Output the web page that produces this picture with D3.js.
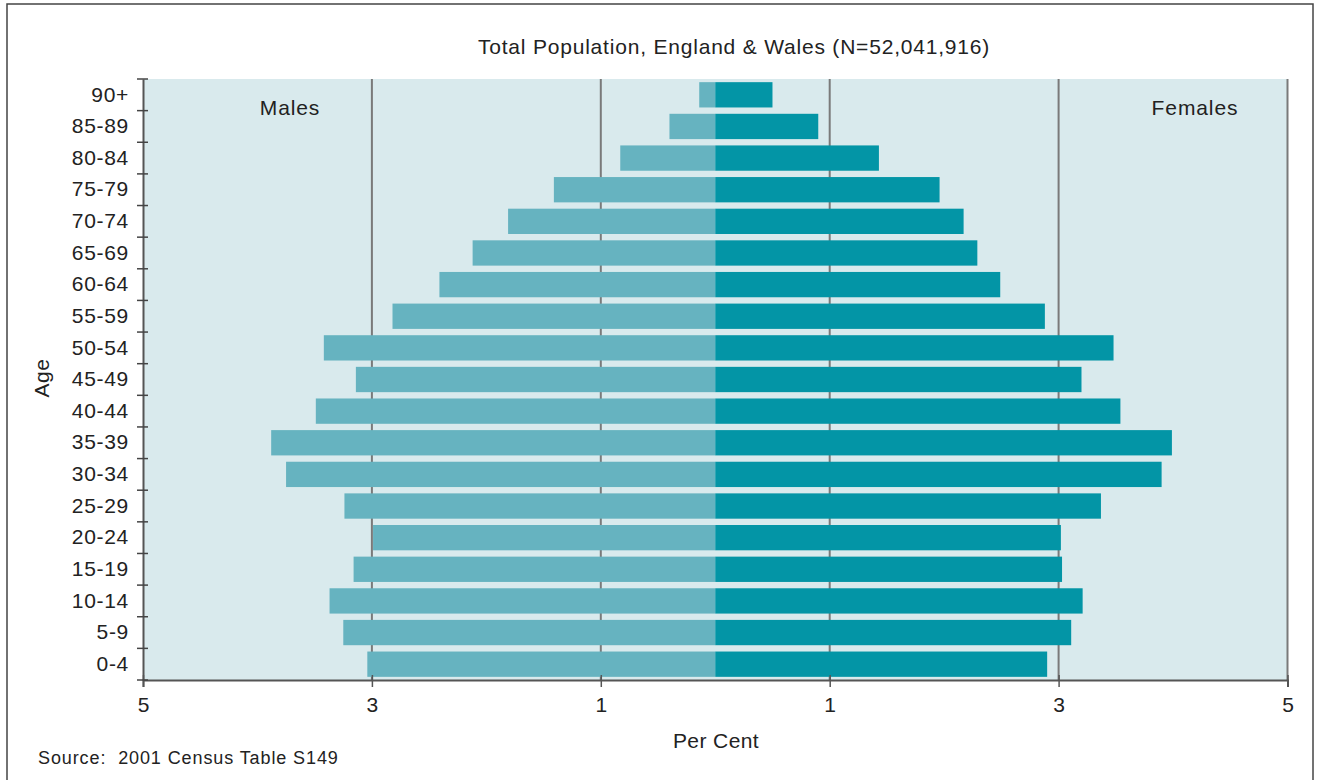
<!DOCTYPE html>
<html>
<head>
<meta charset="utf-8">
<title>Population pyramid</title>
<script src="https://d3js.org/d3.v7.min.js"></script>
<style>
body { margin: 0; background: #fff; }
text { font-family: "Liberation Sans", Arial, sans-serif; fill: #222; }
</style>
</head>
<body>
<div id="chart"></div>
<script>
// age groups, oldest first (top of the pyramid)
var ageGroups = ["90+", "85-89", "80-84", "75-79", "70-74", "65-69", "60-64", "55-59", "50-54",
  "45-49", "40-44", "35-39", "30-34", "25-29", "20-24", "15-19", "10-14", "5-9", "0-4"];

// per cent of total population
var males   = [0.14, 0.40, 0.83, 1.41, 1.81, 2.12, 2.41, 2.82, 3.42,
  3.14, 3.49, 3.88, 3.75, 3.24, 2.99, 3.16, 3.37, 3.25, 3.04];
var females = [0.50, 0.90, 1.43, 1.96, 2.17, 2.29, 2.49, 2.88, 3.48,
  3.20, 3.54, 3.99, 3.90, 3.37, 3.02, 3.03, 3.21, 3.11, 2.90];

var xTicks = [-5, -3, -1, 1, 3, 5];
var gridValues = [-3, -1, 1, 3, 5];

var W = 1319, H = 780;
var margin = {top: 79, right: 31, bottom: 100, left: 143};

var svg = d3.select("#chart").append("svg")
  .attr("width", W)
  .attr("height", H);

// outer frame
svg.append("rect")
  .attr("x", 7).attr("y", 4)
  .attr("width", 1306).attr("height", 800)
  .attr("fill", "none")
  .attr("stroke", "#444")
  .attr("stroke-width", 1.5);

var x = d3.scaleLinear()
  .domain([-5, 5])
  .range([margin.left, W - margin.right - 0.5]);

var y = d3.scaleBand()
  .domain(ageGroups)
  .range([margin.top, H - margin.bottom])
  .paddingInner(0.2)
  .paddingOuter(0.1);

var y0 = margin.top, y1 = H - margin.bottom;

// plot background
svg.append("rect")
  .attr("x", x(-5)).attr("y", y0)
  .attr("width", x(5) - x(-5)).attr("height", y1 - y0)
  .attr("fill", "#d9eaed");

// vertical grid lines
svg.append("g").selectAll("line")
  .data(gridValues)
  .enter().append("line")
    .attr("x1", function(d) { return x(d); })
    .attr("x2", function(d) { return x(d); })
    .attr("y1", y0).attr("y2", y1)
    .attr("stroke", "#7a7a7a")
    .attr("stroke-width", 2);

// bars
var rows = ageGroups.map(function(a, i) { return {age: a, m: males[i], f: females[i]}; });

svg.append("g").selectAll("rect")
  .data(rows)
  .enter().append("rect")
    .attr("x", function(d) { return x(-d.m); })
    .attr("y", function(d) { return y(d.age); })
    .attr("width", function(d) { return x(0) - x(-d.m); })
    .attr("height", y.bandwidth())
    .attr("fill", "#66b3c0");

svg.append("g").selectAll("rect")
  .data(rows)
  .enter().append("rect")
    .attr("x", x(0))
    .attr("y", function(d) { return y(d.age); })
    .attr("width", function(d) { return x(d.f) - x(0); })
    .attr("height", y.bandwidth())
    .attr("fill", "#0395a6");

// x axis
var xAxis = svg.append("g")
  .attr("transform", "translate(0," + y1 + ")")
  .call(d3.axisBottom(x).tickValues(xTicks).tickSize(7).tickPadding(10)
    .tickFormat(function(d) { return Math.abs(d); }));
xAxis.select(".domain").attr("stroke", "#555").attr("stroke-width", 2);
xAxis.selectAll(".tick line").attr("stroke", "#555").attr("stroke-width", 1.5).attr("y1", -5);
xAxis.selectAll(".tick text").attr("font-size", 21).attr("fill", "#222")
  .attr("font-family", "Liberation Sans, Arial, sans-serif");

// y axis
var yAxis = svg.append("g")
  .attr("transform", "translate(" + x(-5) + ",0)")
  .call(d3.axisLeft(y).tickSize(0).tickPadding(14));
yAxis.select(".domain").attr("stroke", "#555").attr("stroke-width", 2);
yAxis.selectAll(".tick text").attr("font-size", 21).attr("fill", "#222")
  .attr("letter-spacing", 0.7)
  .attr("font-family", "Liberation Sans, Arial, sans-serif");

// y ticks sit on the band boundaries
var boundaries = ageGroups.map(function(a) { return y(a) - y.step() * y.paddingInner() / 2; });
boundaries.push(y1);
svg.append("g").selectAll("line")
  .data(boundaries)
  .enter().append("line")
    .attr("x1", x(-5) - 6).attr("x2", x(-5) + 5)
    .attr("y1", function(d) { return d; })
    .attr("y2", function(d) { return d; })
    .attr("stroke", "#444")
    .attr("stroke-width", 1.5);

// labels
svg.append("text")
  .attr("x", 734).attr("y", 54)
  .attr("text-anchor", "middle")
  .attr("font-size", 21)
  .attr("letter-spacing", 0.8)
  .text("Total Population, England & Wales (N=52,041,916)");

svg.append("text")
  .attr("x", 290).attr("y", 115)
  .attr("text-anchor", "middle")
  .attr("font-size", 21)
  .attr("letter-spacing", 0.9)
  .text("Males");

svg.append("text")
  .attr("x", 1195).attr("y", 115)
  .attr("text-anchor", "middle")
  .attr("font-size", 21)
  .attr("letter-spacing", 0.9)
  .text("Females");

svg.append("text")
  .attr("x", 716).attr("y", 748)
  .attr("text-anchor", "middle")
  .attr("font-size", 21)
  .attr("letter-spacing", 0.4)
  .text("Per Cent");

svg.append("text")
  .attr("transform", "translate(49,378) rotate(-90)")
  .attr("text-anchor", "middle")
  .attr("font-size", 21)
  .attr("letter-spacing", 0.6)
  .text("Age");

svg.append("text")
  .attr("x", 38).attr("y", 764)
  .attr("font-size", 18)
  .attr("letter-spacing", 0.9)
  .attr("xml:space", "preserve")
  .style("white-space", "pre")
  .text("Source:  2001 Census Table S149");
</script>
</body>
</html>
